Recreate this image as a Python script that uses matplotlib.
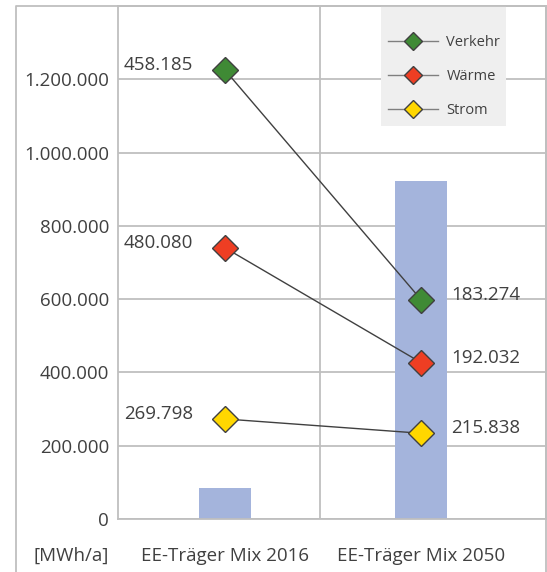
import matplotlib
matplotlib.use("Agg")
import matplotlib.pyplot as plt
from matplotlib.lines import Line2D
from matplotlib.patches import Rectangle
from matplotlib.ticker import FuncFormatter, FixedLocator

plt.rcParams['font.family'] = ['Open Sans', 'DejaVu Sans']

# ---- data ----
categories = ["EE-Träger Mix 2016", "EE-Träger Mix 2050"]
bar_values = [85000, 922000]
series_names = ["Verkehr", "Wärme", "Strom"]
verkehr_pos = [1225000, 599000]
waerme_pos = [740000, 427000]
strom_pos = [273000, 234000]
verkehr_labels = ["458.185", "183.274"]
waerme_labels = ["480.080", "192.032"]
strom_labels = ["269.798", "215.838"]
series_colors = ["#3F8A35", "#EE3E23", "#FFD700"]
unit_label = "[MWh/a]"
y_ticks = [0, 200000, 400000, 600000, 800000, 1000000, 1200000]

W, H = 547, 572
TXT = "#404040"
GRID = "#BFBFBF"

fig = plt.figure(figsize=(W / 100, H / 100), dpi=100)
ax = fig.add_axes([118 / W, (H - 519) / H, (546 - 118) / W, (519 - 6) / H])

x = [0, 1]
ax.set_xlim(-0.546, 1.638)
ax.set_ylim(0, 1400000)

ax.bar(x, bar_values, width=0.27, color="#A4B4DC", zorder=2)

series_pos = [verkehr_pos, waerme_pos, strom_pos]
series_lab = [verkehr_labels, waerme_labels, strom_labels]
for name, pos, labs, col in zip(series_names, series_pos, series_lab, series_colors):
    ax.plot(x, pos, color="#404040", lw=1.0, marker="D", ms=13.5,
            markerfacecolor=col, markeredgecolor="#404040", markeredgewidth=1.0,
            zorder=3, label=name)
    ax.annotate(labs[0], (x[0], pos[0]), xytext=(-23, 3.5), textcoords="offset points",
                ha="right", va="center", fontsize=13.5, color=TXT, zorder=5)
    ax.annotate(labs[1], (x[1], pos[1]), xytext=(22, 3.5), textcoords="offset points",
                ha="left", va="center", fontsize=13.5, color=TXT, zorder=5)

# grid
ax.yaxis.set_major_locator(FixedLocator(y_ticks))
ax.yaxis.set_major_formatter(FuncFormatter(lambda v, p: f"{int(v):,}".replace(",", ".")))
ax.grid(axis="y", color=GRID, lw=1.3, zorder=0)
ax.set_axisbelow(True)
ax.axvline(0.485, color=GRID, lw=1.3, zorder=0)
ax.set_xticks(x)
ax.set_xticklabels(categories)
ax.tick_params(axis="y", length=0, pad=6.5, labelsize=13.5, labelcolor=TXT)
ax.tick_params(axis="x", length=0, pad=20, labelsize=13.5, labelcolor=TXT)
for s in ["left", "bottom", "top", "right"]:
    ax.spines[s].set_color(GRID)
    ax.spines[s].set_linewidth(1.3)

ax.annotate(unit_label, (0, 0), xycoords="axes fraction", xytext=(-6.5, -20),
            textcoords="offset points", ha="right", va="top", fontsize=13.5, color=TXT)

# outer frame
frame = Line2D([16 / W, 16 / W, 546 / W, 546 / W], [0, 1 - 6 / H, 1 - 6 / H, 0],
               transform=fig.transFigure, color=GRID, lw=1.3)
fig.add_artist(frame)

# legend background + legend
ax.add_patch(Rectangle((381 / W, 1 - 126 / H), 125 / W, 120 / H, transform=fig.transFigure,
                       facecolor="#EFEFEF", edgecolor="none", zorder=6, clip_on=False))
leg = ax.legend(loc="upper left", bbox_to_anchor=(388 / W, 1 - 35 / H),
                bbox_transform=fig.transFigure, frameon=False, fontsize=10.5,
                handlelength=3.4, handletextpad=0.6, labelspacing=1.3,
                markerscale=0.68, borderpad=0, borderaxespad=0)
leg.set_zorder(7)
for t in leg.get_texts():
    t.set_color(TXT)
for h in leg.legend_handles:
    h.set_color("#7F7F7F")
    h.set_markeredgecolor("#404040")

fig.savefig("out.png", dpi=100)
